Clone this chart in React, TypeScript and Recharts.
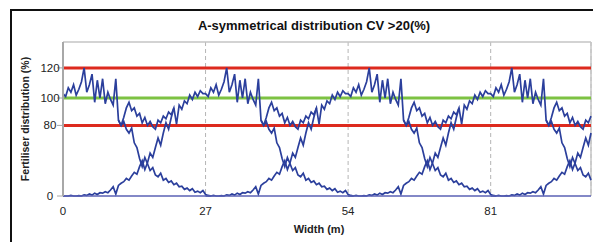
import React from 'react';
import { LineChart, Line, XAxis, YAxis, CartesianGrid, ReferenceLine } from 'recharts';

// tramline spacing and sampling of the spread pattern (m)
const SPACING = 27;
const STEP = 0.5;
const WIDTH_M = 100;

const xTicks = [0, 27, 54, 81];
const yTicks = [0, 80, 100, 120];
const Y_MAX = 136;

const lowerLimit = 80;
const target = 100;
const upperLimit = 120;

// overlapped total over one tramline period, x = 0 .. 26.5
const totalPeriod = [
  103, 101, 107, 104, 109, 102, 106, 111, 120, 104,
  109, 116, 97, 112, 100, 113, 96, 104, 99, 95,
  113, 84, 80, 86, 93, 97, 91, 93, 87, 89,
  82, 86, 80, 83, 79, 77, 84, 82, 87, 85,
  90, 88, 93, 81, 95, 92, 98, 96, 102, 99,
  104, 101, 105, 103,
];

// single pass coming in, x = 0 .. 21 (joins the total)
const risingTail = [
  0, 0, 0, 3, 0, 0, 2, 0, 5, 3,
  7, 4, 9, 6, 10, 9, 12, 10, 15, 20,
  7, 22, 25, 27, 31, 29, 34, 38, 36, 44,
  50, 41, 48, 57, 53, 62, 70, 64, 74, 82,
  77, 86, 93,
];

// single pass going out, x = 10.5 .. 28 (leaves the total)
const FALL_START = 10.5;
const fallingTail = [
  84, 80, 83, 77, 74, 78, 66, 62, 52, 44,
  53, 47, 40, 43, 35, 33, 37, 29, 31, 26,
  28, 23, 25, 20, 21, 16, 18, 14, 17, 11,
  13, 10, 14, 6, 3, 0,
];

// y axis of the original is stretched above 80%: power scale
function powScale(exponent: number, dom: number[] = [0, 1], rng: number[] = [0, 1]): any {
  const f: any = (v: number) => {
    const a = Math.pow(dom[0], exponent);
    const b = Math.pow(dom[1], exponent);
    const t = (Math.pow(Math.max(Number(v), 0), exponent) - a) / (b - a);
    return rng[0] + t * (rng[1] - rng[0]);
  };
  f.domain = (d?: any[]) => {
    if (!d) return dom.slice();
    dom = [Number(d[0]), Number(d[d.length - 1])];
    return f;
  };
  f.range = (r?: any[]) => {
    if (!r) return rng.slice();
    rng = [Number(r[0]), Number(r[r.length - 1])];
    return f;
  };
  f.copy = () => powScale(exponent, dom.slice(), rng.slice());
  f.invert = (p: number) => {
    const a = Math.pow(dom[0], exponent);
    const b = Math.pow(dom[1], exponent);
    const t = (p - rng[0]) / (rng[1] - rng[0]);
    return Math.pow(a + t * (b - a), 1 / exponent);
  };
  f.ticks = () => yTicks.slice();
  f.tickFormat = () => (v: number) => String(v);
  f.nice = () => f;
  f.clamp = () => f;
  f.exponent = () => exponent;
  return f;
}

const yScale = powScale(1.47);

const nPoints = Math.round(WIDTH_M / STEP) + 1;
const perPeriod = SPACING / STEP;
const rows: { x: number; total: number | null; rising: number | null; falling: number | null }[] = [];
for (let i = 0; i < nPoints; i++) rows.push({ x: i * STEP, total: null, rising: null, falling: null });

// every pass has the same pattern, repeated at each tramline
for (let k = 0; k * SPACING < WIDTH_M; k++) {
  const base = k * perPeriod;
  totalPeriod.forEach((v, j) => { if (rows[base + j]) rows[base + j].total = v; });
  risingTail.forEach((v, j) => { if (rows[base + j]) rows[base + j].rising = v; });
  const fs = base + FALL_START / STEP;
  fallingTail.forEach((v, j) => { if (rows[fs + j]) rows[fs + j].falling = v; });
}

const FONT = '"Liberation Sans", Arial, sans-serif';
const BLUE = '#2b3f9c';

export default function App() {
  return (
    <div style={{ position: 'absolute', left: 0, top: 0, width: 593, height: 242, background: '#fff', overflow: 'hidden', fontFamily: FONT }}>
      <div style={{ position: 'absolute', left: 10, top: 9, width: 640, height: 280, borderLeft: '2px solid #111', borderTop: '2px solid #111' }} />
      <div style={{ position: 'absolute', left: 114, top: 19, width: 400, textAlign: 'center', fontSize: 13, lineHeight: '14px', fontWeight: 'bold', color: '#111' }}>
        A-symmetrical distribution CV &gt;20(%)
      </div>
      <LineChart width={593} height={242} data={rows} margin={{ top: 42, right: 2, bottom: 6, left: 0 }} style={{ position: 'absolute', left: 0, top: 0 }}>
        <CartesianGrid horizontal={false} stroke="#b5b5b5" strokeDasharray="4 3" />
        <XAxis
          dataKey="x"
          type="number"
          domain={[0, WIDTH_M]}
          ticks={xTicks}
          height={40}
          tickLine={false}
          tickMargin={5}
          axisLine={{ stroke: '#5a60b4', strokeWidth: 1.5 }}
          tick={{ fontSize: 11.5, fill: '#222', fontFamily: FONT }}
          label={{ value: 'Width (m)', position: 'insideBottom', offset: 3, dx: -8, style: { fontSize: 11, fontWeight: 'bold', fill: '#222', fontFamily: FONT } }}
        />
        <YAxis
          type="number"
          scale={yScale}
          domain={[0, Y_MAX]}
          ticks={yTicks}
          width={63}
          tickSize={6}
          tickMargin={7}
          stroke="#a8a8a8"
          axisLine={{ stroke: '#a8a8a8', strokeWidth: 2 }}
          tick={{ fontSize: 11.5, fill: '#222', textAnchor: 'middle', fontFamily: FONT }}
          label={{ value: 'Fertiliser distribution (%)', angle: -90, position: 'insideLeft', offset: 25, style: { textAnchor: 'middle', fontSize: 10.5, fontWeight: 'bold', fill: '#222', fontFamily: FONT } }}
        />
        <ReferenceLine y={Y_MAX} stroke="#c4c4c4" strokeWidth={1.5} />
        <ReferenceLine x={WIDTH_M} stroke="#c4c4c4" strokeWidth={1.5} />
        <ReferenceLine y={upperLimit} stroke="#dd2a1e" strokeWidth={3} />
        <ReferenceLine y={target} stroke="#7dc242" strokeWidth={3} />
        <ReferenceLine y={lowerLimit} stroke="#dd2a1e" strokeWidth={3} />
        <Line dataKey="rising" stroke={BLUE} strokeWidth={1.7} dot={false} isAnimationActive={false} />
        <Line dataKey="falling" stroke={BLUE} strokeWidth={1.7} dot={false} isAnimationActive={false} />
        <Line dataKey="total" stroke={BLUE} strokeWidth={1.7} dot={false} isAnimationActive={false} />
      </LineChart>
    </div>
  );
}
